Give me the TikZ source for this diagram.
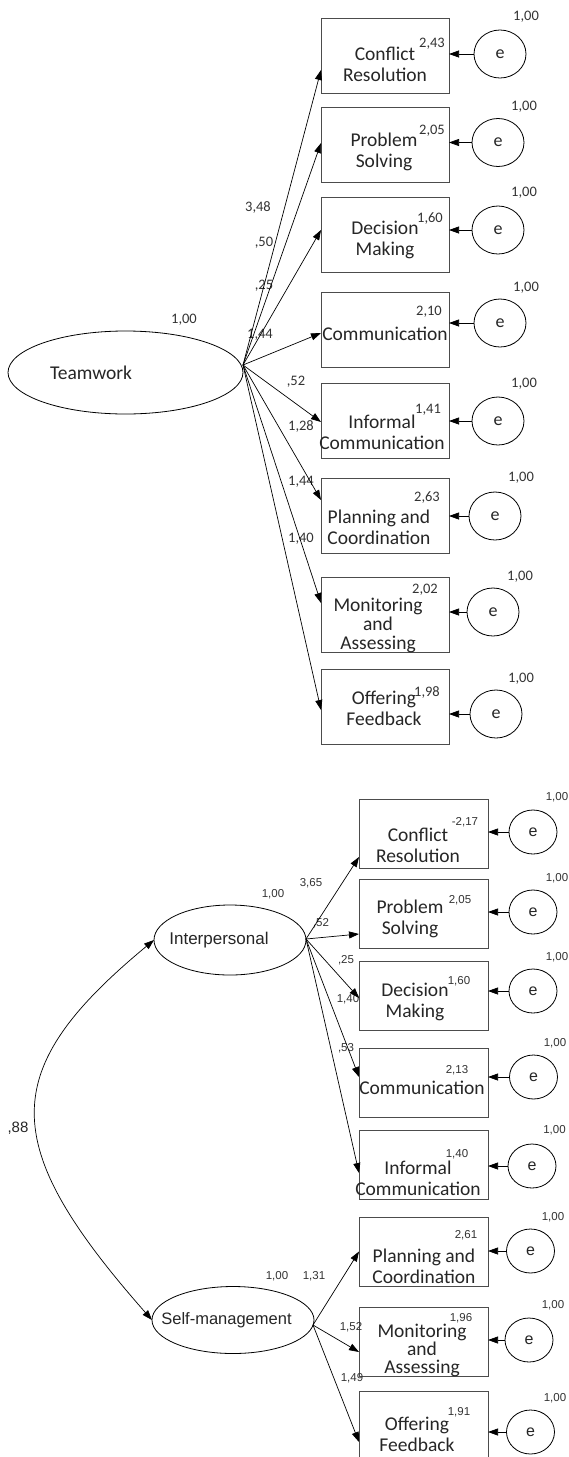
\documentclass[tikz,border=0pt]{standalone}
\usepackage{fontspec}
\setmainfont{Carlito}
\newfontfamily\arialf{Liberation Sans}
\usetikzlibrary{arrows.meta,shapes.geometric}
\begin{document}
\begin{tikzpicture}[x=1pt,y=-1pt,
  box/.style={draw=black!70, line width=0.8pt, minimum width=128pt, minimum height=75pt, inner sep=0pt, outer sep=0pt},
  bbox/.style={box, minimum width=129pt, minimum height=69pt},
  lat/.style={draw=black, line width=0.8pt, ellipse, inner sep=0pt, outer sep=0pt},
  err/.style={draw=black, line width=0.8pt, ellipse, minimum width=52pt, minimum height=48pt, inner sep=0pt, outer sep=0pt, text=black!85, font=\fontsize{18}{18}\selectfont},
  berr/.style={err, minimum width=48pt, minimum height=44pt, font=\arialf\fontsize{16}{16}\selectfont},
  btxt/.style={align=center, font=\fontsize{19.5}{21}\selectfont, text=black!85, inner sep=0pt},
  btxtc/.style={btxt, font=\fontsize{19.5}{19}\selectfont},
  ltxt/.style={inner sep=0pt, text=black!85, font=\fontsize{19.5}{19.5}\selectfont},
  altxt/.style={inner sep=0pt, text=black!85, font=\arialf\fontsize{16.5}{16.5}\selectfont},
  num/.style={font=\fontsize{14.5}{14.5}\selectfont, inner sep=0pt, text=black!80},
  bnum/.style={font=\arialf\fontsize{11.5}{11.5}\selectfont, inner sep=0pt, text=black!80},
  arr/.style={line width=0.7pt, -{Triangle[length=10pt,width=7pt]}},
  darr/.style={line width=0.7pt, {Triangle[length=10pt,width=7pt]}-{Triangle[length=10pt,width=7pt]}},
]
\useasboundingbox[fill=white] (0,0) rectangle (569,1457);

% ---------------- Top model ----------------
\node[lat, minimum width=235pt, minimum height=83pt] (tw) at (125.5,372.5) {};
\node[ltxt] (twt) at (91,373) {Teamwork};
\node[num] (twv) at (184,320) {1,00};
\coordinate (tws) at (243,365);

\node[box] (b1) at (385,56) {};
\node[box] (b2) at (385,144.5) {};
\node[box] (b3) at (385,234.5) {};
\node[box] (b4) at (385,329.5) {};
\node[box] (b5) at (385,420.5) {};
\node[box] (b6) at (385,515.5) {};
\node[box] (b7) at (385,614.5) {};
\node[box] (b8) at (385,706.5) {};

\node[btxt] (bt1) at (385,64.5) {Conflict\\Resolution};
\node[btxt] (bt2) at (384,151.5) {Problem\\Solving};
\node[btxt] (bt3) at (385,240) {Decision\\Making};
\node[btxt] (bt4) at (385,334) {Communication};
\node[btxt] (bt5) at (382,432) {Informal\\Communication};
\node[btxt] (bt6) at (379,527.5) {Planning and\\Coordination};
\node[btxtc] (bt7) at (378,625) {Monitoring\\and\\Assessing};
\node[btxt] (bt8) at (384,708.5) {Offering\\Feedback};

\node[num] (bv1) at (432,44) {2,43};
\node[num] (bv2) at (432,131) {2,05};
\node[num] (bv3) at (430,219) {1,60};
\node[num] (bv4) at (429,312) {2,10};
\node[num] (bv5) at (428,410) {1,41};
\node[num] (bv6) at (427,498) {2,63};
\node[num] (bv7) at (425,590) {2,02};
\node[num] (bv8) at (427,692) {1,98};

\node[err] (e1) at (500,54) {e};
\node[err] (e2) at (498,142.5) {e};
\node[err] (e3) at (498,230) {e};
\node[err] (e4) at (500,323) {e};
\node[err] (e5) at (498,421) {e};
\node[err] (e6) at (495,516) {e};
\node[err] (e7) at (493,612) {e};
\node[err] (e8) at (496,714) {e};

\node[num] (ev1) at (526,17) {1,00};
\node[num] (ev2) at (524,107) {1,00};
\node[num] (ev3) at (524,193) {1,00};
\node[num] (ev4) at (526,288) {1,00};
\node[num] (ev5) at (524,384) {1,00};
\node[num] (ev6) at (521,478) {1,00};
\node[num] (ev7) at (520,577) {1,00};
\node[num] (ev8) at (521,679) {1,00};

\node[num] (l1) at (258,207) {3,48};
\node[num] (l2) at (264,243) {,50};
\node[num] (l3) at (264,286) {,25};
\node[num] (l4) at (260,335) {1,44};
\node[num] (l5) at (296,382) {,52};
\node[num] (l6) at (301,426) {1,28};
\node[num] (l7) at (301,482) {1,44};
\node[num] (l8) at (301,539) {1,40};

\draw[arr] (tws) -- ([yshift=-14pt]b1.west);
\draw[arr] (tws) -- ([yshift=1.5pt]b2.west);
\draw[arr] (tws) -- ([yshift=4.5pt]b3.west);
\draw[arr] (tws) -- ([yshift=-3.5pt]b4.west);
\draw[arr] (tws) -- ([yshift=-1.5pt]b5.west);
\draw[arr] (tws) -- ([yshift=15.5pt]b6.west);
\draw[arr] (tws) -- ([yshift=11.5pt]b7.west);
\draw[arr] (tws) -- ([yshift=-3.5pt]b8.west);

\foreach \i in {1,...,8}{\draw[arr] (e\i.west) -- (e\i.west -| b\i.east);}

% ---------------- Bottom model ----------------
\node[lat, minimum width=152pt, minimum height=70pt] (ip) at (230,940) {};
\node[altxt, font=\arialf\fontsize{17}{17}\selectfont] (ipt) at (219,940) {Interpersonal};
\node[bnum] (ipv) at (273,894) {1,00};
\coordinate (ips) at (306,939);

\node[lat, minimum width=162pt, minimum height=67pt] (sm) at (233,1320) {};
\node[altxt] (smt) at (226.5,1320) {Self-management};
\node[bnum] (smv) at (277,1276) {1,00};
\coordinate (sms) at (313,1325);

\node[bbox] (c1) at (423.5,833.5) {};
\node[bbox] (c2) at (423.5,913.5) {};
\node[bbox] (c3) at (423.5,996) {};
\node[bbox] (c4) at (423.5,1082.5) {};
\node[bbox] (c5) at (423.5,1165) {};
\node[bbox] (c6) at (423.5,1251.5) {};
\node[bbox] (c7) at (423.5,1341.5) {};
\node[bbox] (c8) at (423.5,1425.5) {};

\node[btxt] (ct1) at (418,845) {Conflict\\Resolution};
\node[btxt] (ct2) at (410,918.5) {Problem\\Solving};
\node[btxt] (ct3) at (415,1002) {Decision\\Making};
\node[btxt] (ct4) at (422,1088) {Communication};
\node[btxt] (ct5) at (418,1178.5) {Informal\\Communication};
\node[btxt] (ct6) at (424,1266) {Planning and\\Coordination};
\node[btxtc, font=\fontsize{19.5}{18}\selectfont] (ct7) at (422,1350) {Monitoring\\and\\Assessing};
\node[btxt] (ct8) at (417,1434) {Offering\\Feedback};

\node[bnum] (cv1) at (465,822) {-2,17};
\node[bnum] (cv2) at (460,900) {2,05};
\node[bnum] (cv3) at (459,981) {1,60};
\node[bnum] (cv4) at (457,1070) {2,13};
\node[bnum] (cv5) at (457,1154) {1,40};
\node[bnum] (cv6) at (466,1235) {2,61};
\node[bnum] (cv7) at (461,1318) {1,96};
\node[bnum] (cv8) at (459,1412) {1,91};

\node[berr] (f1) at (533,832) {e};
\node[berr] (f2) at (533,912) {e};
\node[berr] (f3) at (533,991) {e};
\node[berr] (f4) at (533.5,1077) {e};
\node[berr] (f5) at (532,1166) {e};
\node[berr] (f6) at (530.5,1251) {e};
\node[berr] (f7) at (529,1340) {e};
\node[berr] (f8) at (530.5,1432) {e};

\node[bnum] (fv1) at (557,797) {1,00};
\node[bnum] (fv2) at (557,878) {1,00};
\node[bnum] (fv3) at (557,957) {1,00};
\node[bnum] (fv4) at (555,1043) {1,00};
\node[bnum] (fv5) at (554.5,1130) {1,00};
\node[bnum] (fv6) at (553,1217) {1,00};
\node[bnum] (fv7) at (553,1305) {1,00};
\node[bnum] (fv8) at (555,1398) {1,00};

\node[bnum] (m1) at (311,883) {3,65};
\node[bnum] (m2) at (321,923) {,52};
\node[bnum] (m3) at (346,960) {,25};
\node[bnum] (m4) at (348,999) {1,40};
\node[bnum] (m5) at (346,1048) {,53};
\node[bnum] (m6) at (314,1276) {1,31};
\node[bnum] (m7) at (351,1327) {1,52};
\node[bnum] (m8) at (352,1378) {1,49};
\node[inner sep=0pt, text=black!85, font=\arialf\fontsize{15}{15}\selectfont] (cov) at (18,1128) {,88};

\draw[arr] (ips) -- ([yshift=-23.5pt]c1.west);
\draw[arr] (ips) -- ([yshift=-20.5pt]c2.west);
\draw[arr] (ips) -- ([yshift=-2pt]c3.west);
\draw[arr] (ips) -- ([yshift=5.5pt]c4.west);
\draw[arr] (ips) -- ([yshift=-8pt]c5.west);
\draw[arr] (sms) -- (c6.west);
\draw[arr] (sms) -- ([yshift=-10.5pt]c7.west);
\draw[arr] (sms) -- ([yshift=-16.5pt]c8.west);

\foreach \i in {1,...,8}{\draw[arr] (f\i.west) -- (f\i.west -| c\i.east);}

\draw[darr] (ip.west) .. controls +(-157,130) and +(-155,-176) .. (sm.west);
\end{tikzpicture}
\end{document}
